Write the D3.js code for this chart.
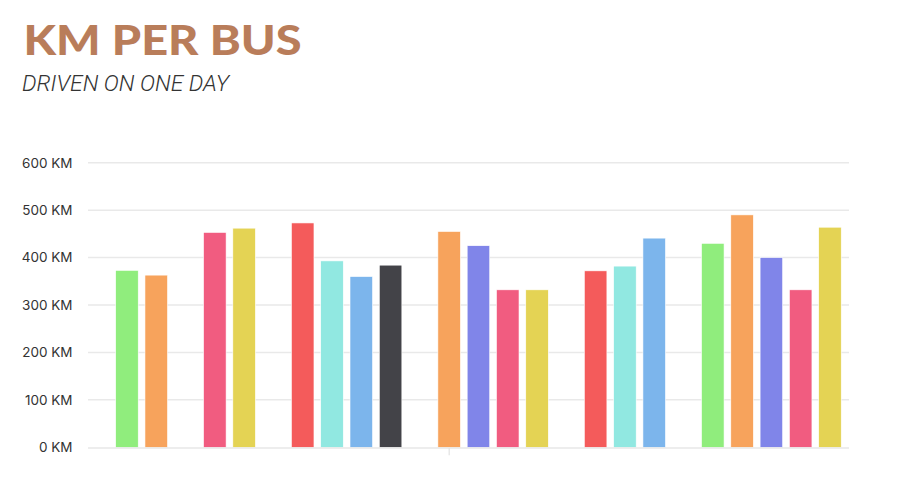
<!DOCTYPE html>
<html>
<head>
<meta charset="utf-8">
<script src="https://cdn.jsdelivr.net/npm/d3@7"></script>
<style>
  body { margin: 0; background: #fff; }
  svg { display: block; }
</style>
</head>
<body>
<script>
// km driven per bus, one slot per column (null = empty slot between groups)
const kmValues = [373, 363, null, 453, 462, null, 473, 393, 360, 384, null,
                  455, 425, 332, 332, null, 372, 382, 441, null,
                  430, 490, 400, 332, 464];
// colours cycle through the palette point by point, starting at index 2
const palette = ["#7cb5ec", "#434348", "#90ed7d", "#f7a35c", "#8085e9",
                 "#f15c80", "#e4d354", "#2b908f", "#f45b5b", "#91e8e1"];
const paletteStart = 2;
const yTicks = [0, 100, 200, 300, 400, 500, 600];
const titleText = "KM PER BUS";
const subtitleText = "DRIVEN ON ONE DAY";

const width = 898, height = 478;

const svg = d3.select("body").append("svg")
    .attr("width", width)
    .attr("height", height)
    .attr("viewBox", [0, 0, width, height]);

const slots = d3.range(kmValues.length);

const x = d3.scaleBand()
    .domain(slots)
    .range([112.3, 844.6])
    .paddingInner(0.23)
    .paddingOuter(0.115);

const y = d3.scaleLinear()
    .domain([0, 600])
    .range([447.3, 162.7]);

// title
svg.append("text")
    .attr("x", 23.5)
    .attr("y", 55)
    .attr("font-family", "Lato, sans-serif")
    .attr("font-weight", 900)
    .attr("font-size", 42.5)
    .attr("fill", "#b97d5a")
    .attr("textLength", 278)
    .attr("lengthAdjust", "spacingAndGlyphs")
    .text(titleText);

svg.append("text")
    .attr("x", 22)
    .attr("y", 90.5)
    .attr("font-family", "Roboto, sans-serif")
    .attr("font-style", "italic")
    .attr("font-weight", 300)
    .attr("font-size", 22)
    .attr("fill", "#333")
    .attr("textLength", 207)
    .attr("lengthAdjust", "spacingAndGlyphs")
    .text(subtitleText);

// gridlines
svg.append("g")
    .attr("stroke", "#e9e9e9")
    .attr("stroke-width", 1.5)
  .selectAll("line")
  .data(yTicks.filter(d => d > 0))
  .join("line")
    .attr("x1", 88)
    .attr("x2", 849)
    .attr("y1", d => y(d))
    .attr("y2", d => y(d));

// y labels
svg.append("g")
    .attr("font-family", "Inter, sans-serif")
    .attr("font-size", 13.5)
    .attr("fill", "#333")
    .attr("text-anchor", "end")
  .selectAll("text")
  .data(yTicks)
  .join("text")
    .attr("x", 72.5)
    .attr("y", d => y(d))
    .attr("dy", "0.36em")
    .text(d => `${d} KM`);

// bars
svg.append("g")
  .selectAll("rect")
  .data(slots.filter(i => kmValues[i] != null))
  .join("rect")
    .attr("x", i => x(i))
    .attr("y", i => y(kmValues[i]))
    .attr("width", x.bandwidth())
    .attr("height", i => y(0) - y(kmValues[i]))
    .attr("fill", i => palette[(i + paletteStart) % palette.length])
    .attr("stroke", "#fff")
    .attr("stroke-width", 0.6);

// baseline
svg.append("line")
    .attr("x1", 88)
    .attr("x2", 849)
    .attr("y1", y(0) + 0.7)
    .attr("y2", y(0) + 0.7)
    .attr("stroke", "#dcdcdc")
    .attr("stroke-width", 1.2);

// single x tick
const tickX = x(11) + x.bandwidth() / 2;
svg.append("line")
    .attr("x1", tickX)
    .attr("x2", tickX)
    .attr("y1", y(0) + 1)
    .attr("y2", y(0) + 8)
    .attr("stroke", "#ddd")
    .attr("stroke-width", 1);
</script>
</body>
</html>
